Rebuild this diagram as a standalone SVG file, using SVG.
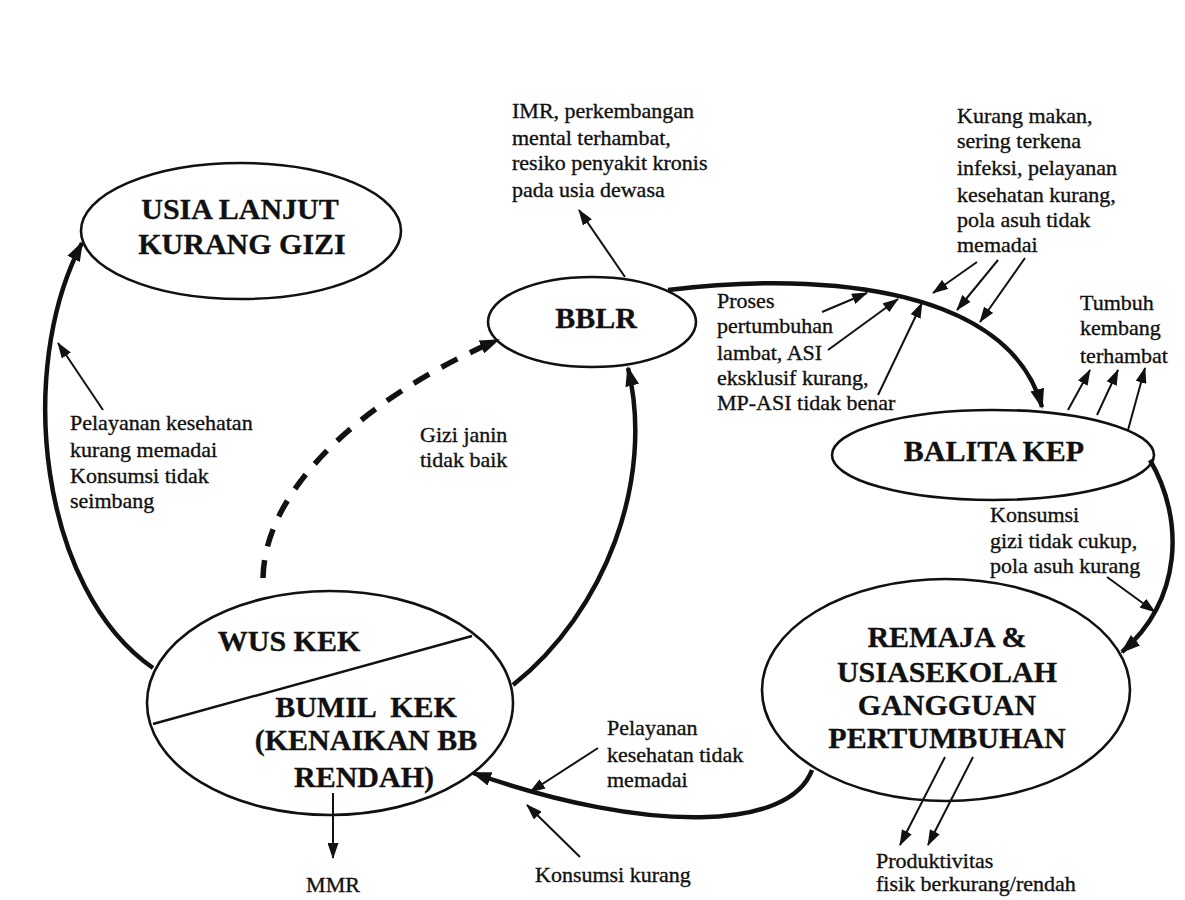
<svg xmlns="http://www.w3.org/2000/svg" width="1185" height="900" viewBox="0 0 1185 900">
<style>
.bg{fill:#ffffff}
.node{fill:none;stroke:#111;stroke-width:2.6}
.big{font-family:'Liberation Serif','DejaVu Serif',serif;font-weight:bold;font-size:30px;fill:#111;text-anchor:middle;stroke:#111;stroke-width:0.3}
.lbl{font-family:'Liberation Serif','DejaVu Serif',serif;font-size:22px;fill:#111;stroke:#111;stroke-width:0.35}
.thick{fill:none;stroke:#111;stroke-width:4.5}
.thin{fill:none;stroke:#111;stroke-width:2}
.dash{fill:none;stroke:#111;stroke-width:5.5;stroke-dasharray:18 14}
</style>
<defs>
<marker id="ahBig" viewBox="0 0 20 14" refX="18" refY="7" markerWidth="20" markerHeight="14" orient="auto" markerUnits="userSpaceOnUse"><path d="M0,0 L20,7 L0,14 z" fill="#111"/></marker>
<marker id="ah" viewBox="0 0 16 11" refX="15" refY="5.5" markerWidth="16" markerHeight="11" orient="auto" markerUnits="userSpaceOnUse"><path d="M0,0 L16,5.5 L0,11 z" fill="#111"/></marker>
</defs>
<rect class="bg" x="0" y="0" width="1185" height="900"/>

<g id="connectors">
<path class="thick" d="M153,668 C40,590 15,370 82,243" marker-end="url(#ahBig)"/>
<path class="dash" d="M263,578 C265,480 380,390 498,340" marker-end="url(#ahBig)"/>
<path class="thick" d="M513,685 C605,612 655,480 628,368" marker-end="url(#ahBig)"/>
<path class="thick" d="M668,290 C830,270 1010,290 1042,407" marker-end="url(#ahBig)"/>
<path class="thick" d="M1150,460 C1185,520 1182,600 1122,652" marker-end="url(#ahBig)"/>
<path class="thick" d="M812,770 C790,830 650,835 473,773" marker-end="url(#ahBig)"/>
<line class="thin" x1="103" y1="410" x2="58" y2="343" marker-end="url(#ah)"/>
<line class="thin" x1="625" y1="277" x2="579" y2="210" marker-end="url(#ah)"/>
<line class="thin" x1="822" y1="312" x2="867" y2="293" marker-end="url(#ah)"/>
<line class="thin" x1="828" y1="350" x2="898" y2="299" marker-end="url(#ah)"/>
<line class="thin" x1="878" y1="395" x2="922" y2="303" marker-end="url(#ah)"/>
<line class="thin" x1="977" y1="262" x2="933" y2="293" marker-end="url(#ah)"/>
<line class="thin" x1="998" y1="260" x2="957" y2="310" marker-end="url(#ah)"/>
<line class="thin" x1="1025" y1="258" x2="980" y2="322" marker-end="url(#ah)"/>
<line class="thin" x1="1068" y1="410" x2="1090" y2="370" marker-end="url(#ah)"/>
<line class="thin" x1="1097" y1="415" x2="1118" y2="370" marker-end="url(#ah)"/>
<line class="thin" x1="1128" y1="430" x2="1145" y2="368" marker-end="url(#ah)"/>
<line class="thin" x1="1107" y1="577" x2="1155" y2="612" marker-end="url(#ah)"/>
<line class="thin" x1="945" y1="757" x2="900" y2="845" marker-end="url(#ah)"/>
<line class="thin" x1="973" y1="757" x2="928" y2="845" marker-end="url(#ah)"/>
<line class="thin" x1="598" y1="748" x2="530" y2="792" marker-end="url(#ah)"/>
<line class="thin" x1="580" y1="857" x2="527" y2="805" marker-end="url(#ah)"/>
<line class="thin" x1="333" y1="793" x2="333" y2="858" marker-end="url(#ah)"/>
</g>

<g id="usia">
<ellipse class="node" cx="241" cy="231" rx="160" ry="68"/>
<text class="big" x="240" y="219">USIA LANJUT</text>
<text class="big" x="242" y="254">KURANG GIZI</text>
</g>

<g id="bblr">
<ellipse class="node" cx="592" cy="322" rx="104" ry="45"/>
<text class="big" x="596" y="328">BBLR</text>
</g>

<g id="balita">
<ellipse class="node" cx="993" cy="455" rx="161" ry="45"/>
<text class="big" x="994" y="461">BALITA KEP</text>
</g>

<g id="remaja">
<ellipse class="node" cx="946" cy="690" rx="184" ry="111"/>
<text class="big" x="947" y="647">REMAJA &amp;</text>
<text class="big" x="947" y="682">USIASEKOLAH</text>
<text class="big" x="947" y="715">GANGGUAN</text>
<text class="big" x="947" y="748">PERTUMBUHAN</text>
</g>

<g id="wus">
<ellipse class="node" cx="330" cy="703" rx="183" ry="112"/>
<line x1="153" y1="724" x2="472" y2="636" stroke="#111" stroke-width="2.4"/>
<text class="big" x="289" y="651">WUS KEK</text>
<text class="big" x="366" y="717" xml:space="preserve">BUMIL  KEK</text>
<text class="big" x="366" y="750">(KENAIKAN BB</text>
<text class="big" x="364" y="787">RENDAH)</text>
</g>

<g id="labels">
<text class="lbl" x="70" y="430">Pelayanan kesehatan</text>
<text class="lbl" x="70" y="457">kurang memadai</text>
<text class="lbl" x="70" y="483">Konsumsi tidak</text>
<text class="lbl" x="70" y="508">seimbang</text>

<text class="lbl" x="512" y="118">IMR, perkembangan</text>
<text class="lbl" x="512" y="145">mental terhambat,</text>
<text class="lbl" x="512" y="170">resiko penyakit kronis</text>
<text class="lbl" x="512" y="197">pada usia dewasa</text>

<text class="lbl" x="957" y="123">Kurang makan,</text>
<text class="lbl" x="957" y="148">sering terkena</text>
<text class="lbl" x="957" y="175">infeksi, pelayanan</text>
<text class="lbl" x="957" y="202">kesehatan kurang,</text>
<text class="lbl" x="957" y="227">pola asuh tidak</text>
<text class="lbl" x="957" y="252">memadai</text>

<text class="lbl" x="717" y="308">Proses</text>
<text class="lbl" x="717" y="333">pertumbuhan</text>
<text class="lbl" x="717" y="360">lambat, ASI</text>
<text class="lbl" x="717" y="385">eksklusif kurang,</text>
<text class="lbl" x="717" y="410">MP-ASI tidak benar</text>

<text class="lbl" x="1080" y="310">Tumbuh</text>
<text class="lbl" x="1080" y="335">kembang</text>
<text class="lbl" x="1080" y="363">terhambat</text>

<text class="lbl" x="420" y="442">Gizi janin</text>
<text class="lbl" x="420" y="467">tidak baik</text>

<text class="lbl" x="990" y="522">Konsumsi</text>
<text class="lbl" x="990" y="548">gizi tidak cukup,</text>
<text class="lbl" x="990" y="573">pola asuh kurang</text>

<text class="lbl" x="607" y="735">Pelayanan</text>
<text class="lbl" x="607" y="762">kesehatan tidak</text>
<text class="lbl" x="607" y="787">memadai</text>

<text class="lbl" x="535" y="882">Konsumsi kurang</text>

<text class="lbl" x="333" y="892" text-anchor="middle">MMR</text>

<text class="lbl" x="876" y="868">Produktivitas</text>
<text class="lbl" x="876" y="891">fisik berkurang/rendah</text>
</g>
</svg>
